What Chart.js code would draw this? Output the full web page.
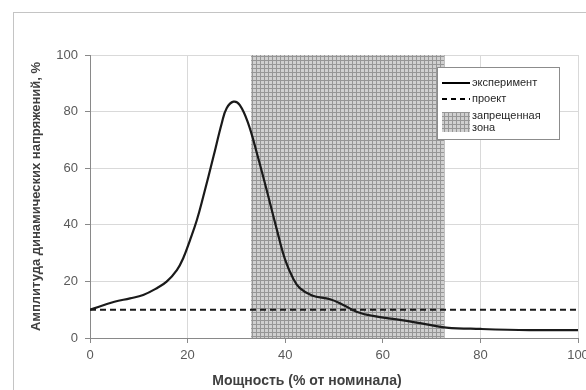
<!DOCTYPE html>
<html>
<head>
<meta charset="utf-8">
<script src="https://cdn.jsdelivr.net/npm/chart.js@4/dist/chart.umd.min.js"></script>
<style>
  html, body { margin: 0; padding: 0; background: #fff; }
  #wrap { width: 586px; height: 390px; }
</style>
</head>
<body>
<div id="wrap"><canvas id="chart" width="586" height="390"></canvas></div>
<script>
// значения
var power = [0, 5, 8.2, 10.9, 13.7, 15.7, 17.8, 19.1, 20.5, 21.9, 23.2, 25.3, 27, 28, 29.4, 30.7, 32.4, 34.2, 36.2, 38.3, 40, 41.7, 43, 45.5, 49.2, 51.9, 54.6, 58, 63.5, 69, 73, 80, 90, 100];
var amplitude = [10, 12.8, 14.0, 15.2, 17.6, 19.9, 24.0, 28.2, 34.6, 41.7, 49.9, 64.1, 75.9, 81.2, 83.5, 82.3, 75.9, 65.3, 52.3, 38.2, 27.6, 20.8, 17.6, 15.0, 13.7, 11.7, 9.3, 7.8, 6.4, 4.8, 3.7, 3.2, 2.8, 2.8];
var projectX = [0, 100];
var projectY = [10, 10];
var zoneX = [33, 72.7];
var zoneY = [100, 100];

var xTitle = 'Мощность (% от номинала)';
var yTitle = 'Амплитуда динамических напряжений, %';
var legendLabels = ['эксперимент', 'проект', 'запрещенная', 'зона'];

function pairs(xs, ys) {
    return xs.map(function (x, i) { return {x: x, y: ys[i]}; });
}

// штриховка запрещенной зоны
function makeHatch() {
    var c = document.createElement('canvas');
    c.width = 4; c.height = 4;
    var g = c.getContext('2d');
    g.fillStyle = '#d0d0d0';
    g.fillRect(0, 0, 4, 4);
    g.fillStyle = '#969696';
    g.fillRect(0, 0, 1, 4);
    g.fillRect(0, 0, 4, 1);
    return g.createPattern(c, 'repeat');
}
var hatch = makeHatch();

var frame = {
    id: 'frame',
    beforeDraw: function (chart) {
        var ctx = chart.ctx;
        ctx.save();
        ctx.strokeStyle = '#c4c4c4';
        ctx.lineWidth = 1;
        ctx.strokeRect(13.5, 12.5, 620, 420);
        ctx.restore();
    },
    afterDraw: function (chart) {
        var ctx = chart.ctx;
        ctx.save();
        // подпись оси X
        ctx.fillStyle = '#404040';
        ctx.font = 'bold 14px "Liberation Sans", Arial, sans-serif';
        ctx.textAlign = 'center';
        ctx.textBaseline = 'middle';
        ctx.fillText(xTitle, 307, 381);

        // легенда
        var bx = 437.5, by = 67.5, bw = 122, bh = 72;
        ctx.fillStyle = '#fff';
        ctx.fillRect(bx, by, bw, bh);
        ctx.strokeStyle = '#8c8c8c';
        ctx.strokeRect(bx, by, bw, bh);
        ctx.strokeStyle = '#000';
        ctx.lineWidth = 2;
        ctx.beginPath();
        ctx.moveTo(442, 83); ctx.lineTo(470, 83);
        ctx.stroke();
        ctx.setLineDash([5, 4]);
        ctx.beginPath();
        ctx.moveTo(442, 99); ctx.lineTo(470, 99);
        ctx.stroke();
        ctx.setLineDash([]);
        ctx.fillStyle = hatch;
        ctx.fillRect(442, 112, 28, 20);
        ctx.fillStyle = '#262626';
        ctx.font = '11px "Liberation Sans", Arial, sans-serif';
        ctx.textAlign = 'left';
        ctx.fillText(legendLabels[0], 472, 83);
        ctx.fillText(legendLabels[1], 472, 99);
        ctx.fillText(legendLabels[2], 472, 116);
        ctx.fillText(legendLabels[3], 472, 128);
        ctx.restore();
    }
};

new Chart(document.getElementById('chart'), {
    type: 'line',
    data: {
        datasets: [{
            label: legendLabels[0],
            data: pairs(power, amplitude),
            borderColor: '#1a1a1a',
            borderWidth: 2.2,
            tension: 0.4,
            fill: false,
            order: 1
        }, {
            label: legendLabels[1],
            data: pairs(projectX, projectY),
            borderColor: '#1a1a1a',
            borderWidth: 2,
            borderDash: [6, 4],
            fill: false,
            order: 2
        }, {
            label: 'запрещенная зона',
            data: pairs(zoneX, zoneY),
            borderWidth: 0,
            borderColor: 'rgba(0,0,0,0)',
            backgroundColor: hatch,
            fill: 'origin',
            order: 3
        }]
    },
    options: {
        responsive: false,
        animation: false,
        events: [],
        layout: {padding: {left: 29, top: 55, right: 0, bottom: 0}},
        elements: {point: {radius: 0}},
        plugins: {
            legend: {display: false},
            tooltip: {enabled: false}
        },
        scales: {
            x: {
                type: 'linear',
                min: 0,
                max: 100,
                afterFit: function (s) { s.height = 52; s.paddingRight = 8; },
                grid: {color: '#d9d9d9', tickLength: 5, tickColor: '#898989'},
                border: {color: '#898989'},
                ticks: {
                    stepSize: 20,
                    padding: 5,
                    color: '#595959',
                    maxRotation: 0,
                    font: {size: 13, family: '"Liberation Sans", Arial, sans-serif'}
                }
            },
            y: {
                min: 0,
                max: 100,
                afterFit: function (s) { s.width = 61; },
                grid: {color: '#d9d9d9', tickLength: 5, tickColor: '#898989'},
                border: {color: '#898989'},
                ticks: {
                    stepSize: 20,
                    padding: 7,
                    color: '#595959',
                    font: {size: 13, family: '"Liberation Sans", Arial, sans-serif'}
                },
                title: {
                    display: true,
                    text: yTitle,
                    color: '#404040',
                    padding: 0,
                    font: {size: 13, weight: 'bold', family: '"Liberation Sans", Arial, sans-serif'}
                }
            }
        }
    },
    plugins: [frame]
});
</script>
</body>
</html>
